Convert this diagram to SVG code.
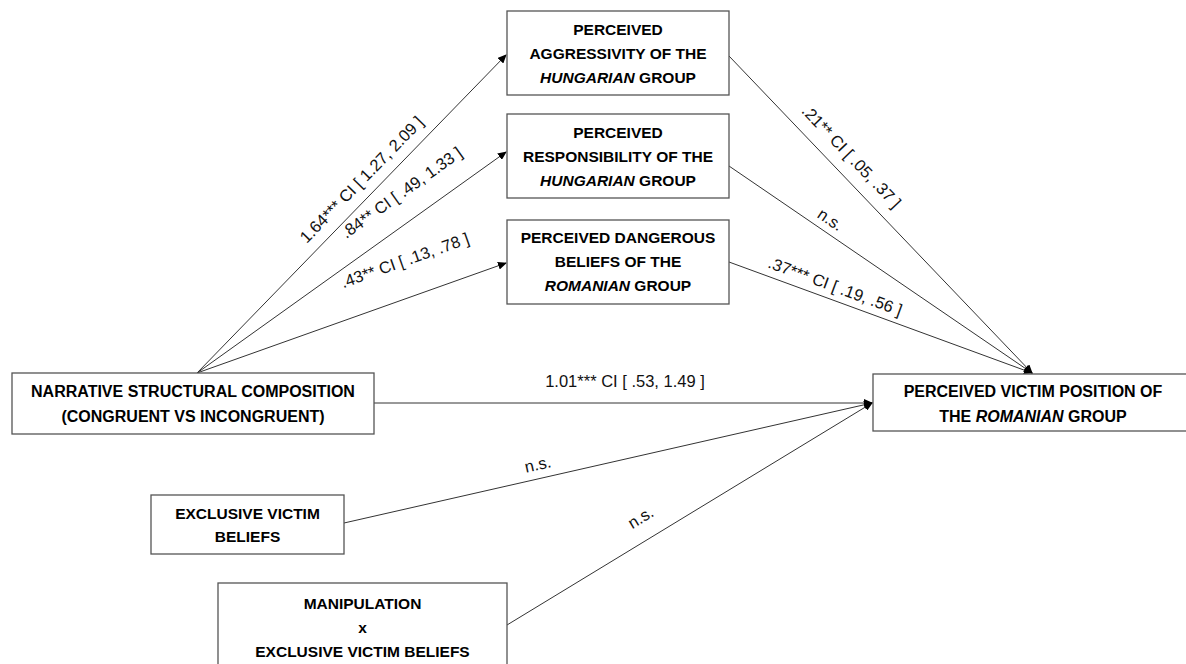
<svg xmlns="http://www.w3.org/2000/svg" width="1186" height="664" viewBox="0 0 1186 664">
<style>
.box{fill:#fff;stroke:#555;stroke-width:1.3}
.bt{font-family:"Liberation Sans",Arial,sans-serif;font-weight:bold;font-size:15.5px;fill:#000;text-anchor:middle}
.lb{font-family:"Liberation Sans",Arial,sans-serif;font-size:16.5px;fill:#111;text-anchor:middle}
.ln{stroke:#333;stroke-width:1;fill:none;marker-end:url(#ah)}
</style>
<defs>
<marker id="ah" markerWidth="9" markerHeight="8" refX="8" refY="4" orient="auto" markerUnits="userSpaceOnUse">
<path d="M0,0 L9,4 L0,8 Z" fill="#000"/>
</marker>
</defs>
<rect width="1186" height="664" fill="#fff"/>
<g id="connectors">
<line class="ln" x1="197" y1="373" x2="506" y2="55"/>
<line class="ln" x1="197" y1="373" x2="506" y2="152"/>
<line class="ln" x1="197" y1="373" x2="506" y2="263"/>
<line class="ln" x1="729" y1="56" x2="1032" y2="373"/>
<line class="ln" x1="729" y1="166" x2="1032" y2="373"/>
<line class="ln" x1="729" y1="262" x2="1032" y2="373"/>
<line class="ln" x1="374" y1="403" x2="872" y2="403"/>
<line class="ln" x1="344" y1="523" x2="872" y2="403"/>
<line class="ln" x1="507" y1="625" x2="872" y2="403"/>
<g id="labels">
<text class="lb" transform="translate(362,180) rotate(-45.8)" x="0" y="5">1.64*** CI [ 1.27, 2.09 ]</text>
<text class="lb" transform="translate(402,193) rotate(-35.5)" x="0" y="5">.84** CI [ .49, 1.33 ]</text>
<text class="lb" transform="translate(405,261) rotate(-19.5)" x="0" y="5">.43** CI [ .13, .78 ]</text>
<text class="lb" transform="translate(851,157) rotate(46.3)" x="0" y="5">.21** CI [ .05, .37 ]</text>
<text class="lb" transform="translate(830,220) rotate(34.3)" x="0" y="5">n.s.</text>
<text class="lb" transform="translate(835,287) rotate(20.2)" x="0" y="5">.37*** CI [ .19, .56 ]</text>
<text class="lb" x="625" y="387">1.01*** CI [ .53, 1.49 ]</text>
<text class="lb" transform="translate(538,465) rotate(-12.5)" x="0" y="5">n.s.</text>
<text class="lb" transform="translate(641,518) rotate(-31.3)" x="0" y="5">n.s.</text>
</g>
</g>
<g id="aggressivity">
<rect class="box" x="507" y="11" width="222" height="84"/>
<text class="bt" x="618" y="35">PERCEIVED</text>
<text class="bt" x="618" y="59">AGGRESSIVITY OF THE</text>
<text class="bt" x="618" y="83"><tspan font-style="italic">HUNGARIAN</tspan> GROUP</text>
</g>
<g id="responsibility">
<rect class="box" x="507" y="114" width="222" height="84"/>
<text class="bt" x="618" y="138">PERCEIVED</text>
<text class="bt" x="618" y="162">RESPONSIBILITY OF THE</text>
<text class="bt" x="618" y="186"><tspan font-style="italic">HUNGARIAN</tspan> GROUP</text>
</g>
<g id="dangerous">
<rect class="box" x="507" y="220" width="222" height="84"/>
<text class="bt" x="618" y="243">PERCEIVED DANGEROUS</text>
<text class="bt" x="618" y="267">BELIEFS OF THE</text>
<text class="bt" x="618" y="291"><tspan font-style="italic">ROMANIAN</tspan> GROUP</text>
</g>
<g id="narrative">
<rect class="box" x="12" y="373" width="362" height="61"/>
<text class="bt" x="193" y="397" style="font-size:16px">NARRATIVE STRUCTURAL COMPOSITION</text>
<text class="bt" x="193" y="422" style="font-size:16px">(CONGRUENT VS INCONGRUENT)</text>
</g>
<g id="victim">
<rect class="box" x="873" y="374" width="320" height="57"/>
<text class="bt" x="1033" y="397" style="font-size:16px">PERCEIVED VICTIM POSITION OF</text>
<text class="bt" x="1033" y="422" style="font-size:16px">THE <tspan font-style="italic">ROMANIAN</tspan> GROUP</text>
</g>
<g id="exclusive">
<rect class="box" x="151" y="495" width="193" height="59"/>
<text class="bt" x="247.5" y="519">EXCLUSIVE VICTIM</text>
<text class="bt" x="247.5" y="542">BELIEFS</text>
</g>
<g id="manipulation">
<rect class="box" x="218" y="583" width="289" height="90"/>
<text class="bt" x="362.5" y="609">MANIPULATION</text>
<text class="bt" x="362.5" y="633">x</text>
<text class="bt" x="362.5" y="657">EXCLUSIVE VICTIM BELIEFS</text>
</g>
</svg>
